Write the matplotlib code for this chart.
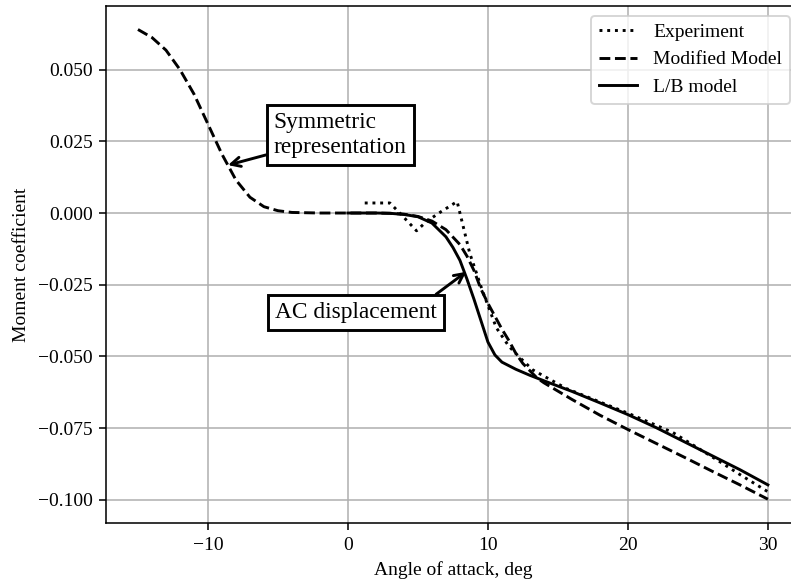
import matplotlib
matplotlib.use('Agg')
import matplotlib.pyplot as plt
import numpy as np

plt.rcParams['font.family'] = ['Liberation Serif', 'DejaVu Serif']
plt.rcParams['font.size'] = 10

# experiment (dotted)
exp_alpha = [1.2, 3.0, 3.7, 4.9, 5.6, 6.6, 7.8, 8.2, 8.7, 9.6, 10.6, 11.5, 12.3,
             13.2, 15.6, 20.0, 23.2, 26.4, 28.0, 30.0]
exp_cm = [0.0035, 0.0035, 0.0, -0.0062, -0.0030, 0.0003, 0.0040, -0.0040, -0.0140,
          -0.0270, -0.0400, -0.0465, -0.0505, -0.0547, -0.0612, -0.0698, -0.0765,
          -0.0862, -0.0912, -0.0972]

# modified model (dashed)
mod_alpha = [-15, -14, -13, -12, -11, -10, -9, -8, -7, -6, -5, -4, -2, 0, 2, 3, 4, 5,
             6, 7, 8, 8.5, 9, 9.5, 10, 10.5, 11, 11.5, 12, 12.5, 13, 13.5, 14, 16,
             18, 20, 22, 24, 26, 28, 30]
mod_cm = [0.0640, 0.0612, 0.0568, 0.0500, 0.0415, 0.0310, 0.0205, 0.0115, 0.0055,
          0.0022, 0.0008, 0.0002, 0.0, 0.0, 0.0, -0.0001, -0.0004, -0.0012, -0.0028,
          -0.0058, -0.0110, -0.0150, -0.0200, -0.0265, -0.0315, -0.0360, -0.0405,
          -0.0445, -0.0490, -0.0525, -0.0550, -0.0575, -0.0592, -0.0650, -0.0705,
          -0.0755, -0.0803, -0.0851, -0.0900, -0.0948, -0.0998]

# L/B model (solid)
lb_alpha = [0, 2, 3, 4, 5, 6, 7, 7.5, 8, 8.5, 9, 9.5, 10, 10.5, 11, 12, 13, 14, 16,
            18, 20, 22, 24, 26, 28, 30]
lb_cm = [0.0, 0.0, -0.0001, -0.0005, -0.0013, -0.0035, -0.0083, -0.0120, -0.0165,
         -0.0230, -0.0300, -0.0375, -0.0450, -0.0495, -0.0520, -0.0545, -0.0566,
         -0.0585, -0.0622, -0.0662, -0.0703, -0.0748, -0.0797, -0.0846, -0.0895,
         -0.0948]

fig = plt.figure(figsize=(791 / 140, 586 / 140), dpi=140)
ax = fig.add_axes([0.1346, 0.1075, 0.876, 0.8823])

ax.plot(exp_alpha, exp_cm, ':', color='black', lw=1.5, label='Experiment')
ax.plot(mod_alpha, mod_cm, '--', color='black', lw=1.5, label='Modified Model')
ax.plot(lb_alpha, lb_cm, '-', color='black', lw=1.5, label='L/B model')

ax.set_xlim(-17.25, 32.25)
ax.set_ylim(-0.1081, 0.0722)
ax.set_xticks([-10, 0, 10, 20, 30])
ax.set_yticks([-0.1, -0.075, -0.05, -0.025, 0.0, 0.025, 0.05])
ax.grid(True, color='#b0b0b0', lw=0.8)
ax.set_xlabel('Angle of attack, deg')
ax.set_ylabel('Moment coefficient')

box = dict(boxstyle='square,pad=0.3', fc='white', ec='black', lw=1.5)
ax.annotate('Symmetric\nrepresentation', xy=(-8.57, 0.0167), xytext=(-5.3, 0.0272),
            fontsize=12, ha='left', va='center', multialignment='left', bbox=box,
            arrowprops=dict(arrowstyle='->', color='black', lw=1.5, shrinkA=0, shrinkB=0))
ax.annotate('AC displacement', xy=(8.45, -0.0205), xytext=(-5.2, -0.0347),
            fontsize=12, ha='left', va='center', bbox=box,
            arrowprops=dict(arrowstyle='->', color='black', lw=1.5, shrinkA=0, shrinkB=0,
                            relpos=(0.93, 1.0)))

ax.legend(loc='upper right')

fig.savefig('out.png', dpi=140)
